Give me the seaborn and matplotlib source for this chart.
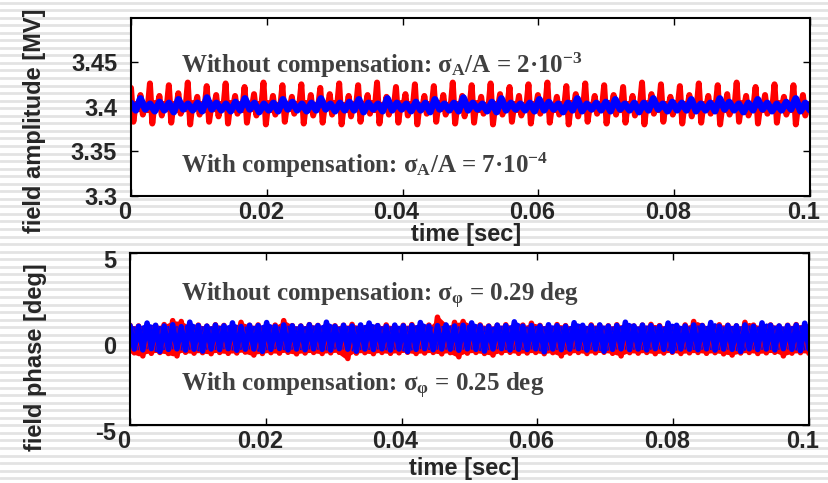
import numpy as np
import matplotlib
matplotlib.use("Agg")
import matplotlib.pyplot as plt
import matplotlib.transforms as mtransforms
import seaborn as sns

# ---------------- data ----------------
amp_center = 3.40          # MV
t_start, t_end = 0.0, 0.1  # sec

# top panel, offsets from 3.40 MV in units of 1e-3 MV, one entry per burst
red_amp_hi = [21, 13, 26, 12, 24, 15, 27, 11, 23, 13,
              26, 12, 22, 14, 27, 12, 24, 11, 25, 13,
              21, 14, 26, 12, 24, 13, 27, 11, 22, 14,
              25, 12, 23, 13, 27, 12, 24, 11, 26, 14,
              22, 12, 25, 13, 27, 11, 23, 14, 26, 12,
              24, 13, 22, 12, 27, 14, 25, 11, 23, 13,
              26, 12, 24, 14, 27, 12, 22, 13, 25, 11,
              24, 13]
red_amp_lo = [-17, -9, -19, -10, -18, -8, -20, -9, -17, -11,
              -19, -8, -18, -10, -20, -9, -17, -8, -19, -10,
              -18, -9, -20, -11, -17, -8, -19, -9, -18, -10,
              -20, -8, -17, -9, -19, -11, -18, -8, -20, -9,
              -17, -10, -19, -8, -18, -9, -20, -11, -17, -8,
              -19, -9, -18, -10, -20, -8, -17, -9, -19, -11,
              -18, -8, -20, -9, -17, -10, -19, -8, -18, -9,
              -20, -10]
red_amp_band_hi = [3, 2, 4, 3, 3, 2, 4, 3, 2, 3,
                   4, 3, 2, 3, 4, 2, 3, 3, 4, 2,
                   3, 4, 2, 3, 3, 4, 2, 3, 4, 3,
                   2, 3, 4, 2, 3, 3, 4, 2, 3, 4,
                   3, 2, 3, 4, 2, 3, 4, 3, 2, 3,
                   4, 2, 3, 3, 4, 2, 3, 4, 3, 2,
                   3, 4, 2, 3, 4, 3, 2, 3, 4, 3,
                   2, 3]
red_amp_band_lo = [-3, -4, -2, -3, -4, -3, -2, -4, -3, -2,
                   -3, -4, -3, -2, -4, -3, -3, -2, -4, -3,
                   -2, -3, -4, -3, -2, -4, -3, -3, -2, -4,
                   -3, -2, -3, -4, -3, -2, -4, -3, -3, -2,
                   -4, -3, -2, -3, -4, -3, -2, -4, -3, -3,
                   -2, -4, -3, -2, -3, -4, -3, -2, -4, -3,
                   -3, -2, -4, -3, -3, -2, -4, -3, -2, -4,
                   -3, -3]
blue_amp_hi = [4, 9, 3, 5, 4, 8, 3, 4, 10, 4,
               3, 5, 9, 4, 3, 4, 8, 5, 3, 4,
               9, 3, 4, 5, 8, 4, 3, 9, 4, 3,
               5, 4, 8, 3, 4, 10, 4, 3, 5, 9,
               4, 3, 4, 8, 5, 3, 4, 9, 3, 4,
               5, 8, 3, 4, 4, 9, 3, 5, 4, 8,
               3, 4, 9, 5, 3, 4, 8, 4, 3, 5,
               9, 4]
blue_amp_lo = [-4, -3, -5, -4, -6, -3, -4, -5, -3, -4,
               -5, -4, -3, -6, -4, -5, -3, -4, -5, -4,
               -3, -5, -4, -4, -6, -3, -5, -4, -3, -5,
               -4, -6, -3, -4, -5, -4, -3, -5, -6, -4,
               -3, -4, -5, -4, -3, -6, -4, -5, -3, -4,
               -5, -3, -4, -6, -4, -3, -5, -4, -4, -5,
               -4, -5, -3, -4, -6, -4, -3, -5, -4, -3,
               -5, -4]

# bottom panel, phase in degrees, upper / lower excursions of the traces
red_ph_hi = [0.78, 0.74, 0.80, 0.76, 0.82, 1.05, 1.00, 0.75, 0.79, 0.73,
             0.81, 0.77, 0.74, 0.95, 0.78, 0.80, 0.73, 0.79, 1.05, 0.76,
             0.74, 0.82, 0.77, 0.80, 0.75, 0.78, 0.83, 0.74, 0.79, 0.76,
             0.80, 0.73, 0.78, 0.82, 0.75, 0.79, 1.25, 0.77, 0.95, 1.00,
             0.76, 0.80, 0.74, 0.78, 0.81, 0.75, 0.79, 0.90, 0.77, 0.74,
             0.82, 0.76, 0.79, 0.73, 0.80, 0.78, 0.75, 0.81, 0.77, 0.74,
             0.79, 0.83, 0.76, 0.78, 0.74, 0.80, 1.00, 0.77, 0.75, 0.81,
             0.78, 0.74, 0.95, 0.79, 0.76, 0.80, 0.73, 0.78, 0.82, 0.76]
red_ph_lo = [-0.82, -1.00, -0.85, -0.80, -0.86, -1.00, -0.79, -0.84, -0.81, -0.87,
             -0.80, -0.85, -0.83, -0.78, -0.95, -0.86, -0.81, -0.84, -0.79, -0.88,
             -0.83, -0.80, -0.86, -0.82, -0.79, -1.15, -0.84, -0.81, -0.87, -0.80,
             -0.85, -0.82, -0.79, -0.86, -0.83, -0.80, -0.88, -0.81, -1.05, -0.84,
             -0.80, -0.86, -0.95, -0.82, -0.79, -0.85, -0.83, -0.80, -0.87, -0.81,
             -1.00, -0.84, -0.80, -0.86, -0.82, -0.79, -0.85, -1.00, -0.81, -0.84,
             -0.80, -0.87, -0.83, -0.79, -0.86, -0.82, -0.80, -0.85, -0.81, -0.88,
             -0.95, -0.83, -0.80, -0.86, -0.82, -0.79, -1.00, -0.84, -0.81, -0.85]
blue_ph_hi = [0.76, 0.72, 0.91, 0.78, 0.74, 0.81, 0.70, 0.96, 0.76, 0.73,
              0.79, 0.75, 0.92, 0.71, 0.78, 0.76, 0.94, 0.72, 0.80, 0.75,
              0.73, 0.81, 0.76, 0.96, 0.72, 0.78, 0.74, 0.80, 0.91, 0.76,
              0.72, 0.79, 0.75, 0.77, 0.94, 0.73, 0.76, 0.80, 0.74, 0.78,
              0.92, 0.75, 0.72, 0.79, 0.76, 0.98, 0.73, 0.77, 0.74, 0.81,
              0.76, 0.72, 0.93, 0.78, 0.75, 0.80, 0.73, 0.77, 0.96, 0.74,
              0.79, 0.76, 0.72, 0.91, 0.78, 0.74, 0.80, 0.76, 0.94, 0.73,
              0.77, 0.75, 0.80, 0.72, 0.92, 0.78, 0.74, 0.76, 0.79, 0.90]
blue_ph_lo = [-0.60, -0.65, -0.58, -0.75, -0.62, -0.59, -0.66, -0.61, -0.72, -0.60,
              -0.63, -0.58, -0.67, -0.61, -0.60, -0.74, -0.62, -0.57, -0.65, -0.60,
              -0.64, -0.59, -0.62, -0.66, -0.58, -0.61, -0.73, -0.60, -0.63, -0.59,
              -0.66, -0.60, -0.75, -0.62, -0.58, -0.64, -0.60, -0.61, -0.67, -0.59,
              -0.62, -0.72, -0.60, -0.58, -0.65, -0.61, -0.63, -0.59, -0.76, -0.60,
              -0.64, -0.61, -0.58, -0.66, -0.60, -0.73, -0.62, -0.59, -0.63, -0.60,
              -0.65, -0.58, -0.62, -0.74, -0.60, -0.61, -0.64, -0.59, -0.66, -0.60,
              -0.62, -0.75, -0.59, -0.63, -0.60, -0.65, -0.58, -0.62, -0.70, -0.60]

xticks = [0, 0.02, 0.04, 0.06, 0.08, 0.1]
xtick_labels = ["0", "0.02", "0.04", "0.06", "0.08", "0.1"]
amp_yticks = [3.3, 3.35, 3.4, 3.45]
amp_ytick_labels = ["3.3", "3.35", "3.4", "3.45"]
amp_ylim = (3.3, 3.5)
ph_yticks = [-5, 0, 5]
ph_ytick_labels = ["-5", "0", "5"]
ph_ylim = (-5, 5)

xlabel = "time [sec]"
amp_ylabel = "field amplitude [MV]"
ph_ylabel = "field phase [deg]"
amp_text_without = "Without compensation: $\\sigma_{A}$/A = 2\u00b7$10^{-3}$"
amp_text_with = "With compensation: $\\sigma_{A}$/A = 7\u00b7$10^{-4}$"
ph_text_without = "Without compensation: $\\sigma_{\\varphi}$ = 0.29 deg"
ph_text_with = "With compensation: $\\sigma_{\\varphi}$ = 0.25 deg"

# ---------------- build traces ----------------
red_amp = amp_center + 1e-3 * np.column_stack(
    [red_amp_hi, red_amp_lo, red_amp_band_hi, red_amp_band_lo]).ravel()
blue_amp = amp_center + 1e-3 * np.column_stack([blue_amp_hi, blue_amp_lo]).ravel()
red_ph = np.column_stack([red_ph_hi, red_ph_lo]).ravel()
blue_ph = np.column_stack([blue_ph_hi, blue_ph_lo]).ravel()

t_red_amp = np.linspace(t_start, t_end, len(red_amp))
t_blue_amp = np.linspace(t_start, t_end, len(blue_amp))
t_red_ph = np.linspace(t_start, t_end, len(red_ph))
t_blue_ph = np.linspace(t_start, t_end, len(blue_ph))
t_amp_burst = np.linspace(t_start, t_end, len(red_amp_hi))
t_ph_pair = np.linspace(t_start, t_end, len(red_ph_hi))

# ---------------- style ----------------
sns.set_style("ticks")
plt.rcParams["font.family"] = ["Liberation Sans", "DejaVu Sans"]
plt.rcParams["mathtext.fontset"] = "custom"
plt.rcParams["mathtext.rm"] = "Liberation Serif:bold"
plt.rcParams["mathtext.it"] = "Liberation Serif:bold"
plt.rcParams["mathtext.bf"] = "Liberation Serif:bold"

W, H = 829, 483
fig = plt.figure(figsize=(W / 100, H / 100), dpi=100)
fig.patch.set_facecolor("white")

# striped slide background
bg = fig.add_axes([0, 0, 1, 1], zorder=-10)
bg.set_xlim(0, W)
bg.set_ylim(H, 0)
bg.axis("off")
for yy in np.arange(2.5, H + 8, 7.55):
    bg.axhline(yy, color="#e3e3e3", lw=2.0, zorder=0)

ax1 = fig.add_axes([131 / W, (H - 195.7) / H, 679 / W, 178.2 / H])
ax2 = fig.add_axes([130 / W, (H - 424.7) / H, 679 / W, 172 / H])

RED, BLUE = "#ff0000", "#0000ff"
line_kw = dict(estimator=None, sort=False, legend=False,
               solid_capstyle="round", solid_joinstyle="round")

# amplitude panel
ax1.fill_between(t_amp_burst, amp_center + 1e-3 * np.array(red_amp_band_lo),
                 amp_center + 1e-3 * np.array(red_amp_band_hi), color=RED, lw=0)
sns.lineplot(x=t_red_amp, y=red_amp, ax=ax1, color=RED, linewidth=4.3, **line_kw)
ax1.fill_between(t_amp_burst, amp_center + 1e-3 * np.array(blue_amp_lo),
                 amp_center + 1e-3 * np.array(blue_amp_hi), color=BLUE, lw=0)
sns.lineplot(x=t_blue_amp, y=blue_amp, ax=ax1, color=BLUE, linewidth=5.0, **line_kw)

# phase panel
ax2.fill_between(t_ph_pair, red_ph_lo, red_ph_hi, color=RED, lw=0)
sns.lineplot(x=t_red_ph, y=red_ph, ax=ax2, color=RED, linewidth=4.0, **line_kw)
ax2.fill_between(t_ph_pair, blue_ph_lo, blue_ph_hi, color=BLUE, lw=0)
sns.lineplot(x=t_blue_ph, y=blue_ph, ax=ax2, color=BLUE, linewidth=4.0, **line_kw)

tick_font = dict(fontsize=17, fontweight="bold")
label_font = dict(fontsize=17, fontweight="bold")
text_kw = dict(fontsize=18, fontweight="bold", family=["Liberation Serif", "DejaVu Serif"],
               color="#404040", va="baseline", ha="left")

for ax, yt, ytl, ylim, ylab in [(ax1, amp_yticks, amp_ytick_labels, amp_ylim, amp_ylabel),
                                 (ax2, ph_yticks, ph_ytick_labels, ph_ylim, ph_ylabel)]:
    ax.set_facecolor("white")
    ax.set_xlim(t_start, t_end)
    ax.set_ylim(*ylim)
    ax.set_xticks(xticks)
    ax.set_xticklabels(xtick_labels, **tick_font)
    ax.set_yticks(yt)
    ax.set_yticklabels(ytl, **tick_font)
    ax.tick_params(direction="in", length=5, width=1, top=True, right=True,
                   color="black")
    ax.tick_params(axis="x", pad=4)
    ax.tick_params(axis="y", pad=10)
    for s in ax.spines.values():
        s.set_linewidth(1.5)
        s.set_color("black")
    ax.set_xlabel(xlabel, **label_font)
    ax.set_ylabel(ylab, **label_font)
    off = mtransforms.ScaledTranslation(-6 / 100, 0, fig.dpi_scale_trans)
    for lab in ax.get_xticklabels():
        lab.set_transform(lab.get_transform() + off)

off_y = mtransforms.ScaledTranslation(0, -6 / 100, fig.dpi_scale_trans)
for lab in ax2.get_yticklabels():
    lab.set_transform(lab.get_transform() + off_y)

ax1.xaxis.set_label_coords(0.493, -0.155)
ax2.xaxis.set_label_coords(0.492, -0.185)
ax1.yaxis.set_label_coords(-0.125, 0.42)
ax2.yaxis.set_label_coords(-0.122, 0.395)

ax1.text(0.074, 0.690, amp_text_without, transform=ax1.transAxes, **text_kw)
ax1.text(0.074, 0.130, amp_text_with, transform=ax1.transAxes, **text_kw)
ax2.text(0.075, 0.715, ph_text_without, transform=ax2.transAxes, **text_kw)
ax2.text(0.075, 0.192, ph_text_with, transform=ax2.transAxes, **text_kw)

fig.savefig("out.png", dpi=100, facecolor="white")
